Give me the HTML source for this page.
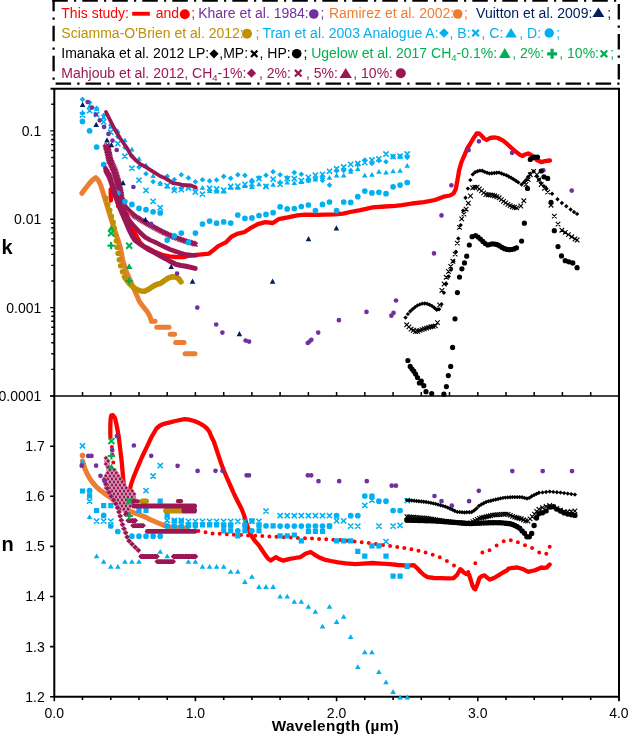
<!DOCTYPE html>
<html><head><meta charset="utf-8"><style>html,body{margin:0;padding:0;background:#fff;width:637px;height:735px;overflow:hidden}svg{display:block}</style></head>
<body><svg width="637" height="735" viewBox="0 0 637 735"><path d="M54.3 88 V696.7 H619" fill="none" stroke="#000" stroke-width="2"/>
<path d="M619 89 V700.5" fill="none" stroke="#000" stroke-width="2"/>
<path d="M50.5 88.8 H620" fill="none" stroke="#000" stroke-width="2"/>
<path d="M50.099999999999994 396 H620" fill="none" stroke="#000" stroke-width="1.7"/>
<path d="M54.3 696.7v4.5M82.5 696.7v3.2M110.8 696.7v3.2M139 696.7v3.2M167.2 696.7v3.2M195.4 696.7v4.5M223.7 696.7v3.2M251.9 696.7v3.2M280.1 696.7v3.2M308.4 696.7v3.2M336.6 696.7v4.5M364.8 696.7v3.2M393.1 696.7v3.2M421.3 696.7v3.2M449.5 696.7v3.2M477.8 696.7v4.5M506 696.7v3.2M534.2 696.7v3.2M562.4 696.7v3.2M590.7 696.7v3.2M618.9 696.7v4.5" stroke="#000" stroke-width="1.6"/>
<path d="M82.5 396v-4M110.8 396v-4M139 396v-4M167.2 396v-4M195.4 396v-4M223.7 396v-4M251.9 396v-4M280.1 396v-4M308.4 396v-4M336.6 396v-4M364.8 396v-4M393.1 396v-4M421.3 396v-4M449.5 396v-4M477.8 396v-4M506 396v-4M534.2 396v-4M562.4 396v-4M590.7 396v-4" stroke="#000" stroke-width="1.5"/>
<path d="M54.3 395.9h-4.1M54.3 369.4h-3M54.3 353.8h-3M54.3 342.8h-3M54.3 334.2h-3M54.3 327.2h-3M54.3 321.3h-3M54.3 316.2h-3M54.3 311.6h-3M54.3 307.6h-4.1M54.3 281h-3M54.3 265.4h-3M54.3 254.4h-3M54.3 245.8h-3M54.3 238.9h-3M54.3 232.9h-3M54.3 227.8h-3M54.3 223.3h-3M54.3 219.2h-4.1M54.3 192.7h-3M54.3 177.1h-3M54.3 166.1h-3M54.3 157.5h-3M54.3 150.5h-3M54.3 144.6h-3M54.3 139.5h-3M54.3 134.9h-3M54.3 130.9h-4.1M54.3 104.3h-3" stroke="#000" stroke-width="1.4"/>
<path d="M54.3 696.7h-4.2M54.3 646.6h-4.2M54.3 596.5h-4.2M54.3 546.4h-4.2M54.3 496.3h-4.2M54.3 446.2h-4.2" stroke="#000" stroke-width="1.6"/>
<text x="41.3" y="135.8" font-family="Liberation Sans, Arial, sans-serif" font-size="14" text-anchor="end">0.1</text>
<text x="41.3" y="224.2" font-family="Liberation Sans, Arial, sans-serif" font-size="14" text-anchor="end">0.01</text>
<text x="41.3" y="312.5" font-family="Liberation Sans, Arial, sans-serif" font-size="14" text-anchor="end">0.001</text>
<text x="41.3" y="400.8" font-family="Liberation Sans, Arial, sans-serif" font-size="14" text-anchor="end">0.0001</text>
<text x="44.8" y="701.6" font-family="Liberation Sans, Arial, sans-serif" font-size="14" text-anchor="end">1.2</text>
<text x="44.8" y="651.5" font-family="Liberation Sans, Arial, sans-serif" font-size="14" text-anchor="end">1.3</text>
<text x="44.8" y="601.4" font-family="Liberation Sans, Arial, sans-serif" font-size="14" text-anchor="end">1.4</text>
<text x="44.8" y="551.3" font-family="Liberation Sans, Arial, sans-serif" font-size="14" text-anchor="end">1.5</text>
<text x="44.8" y="501.2" font-family="Liberation Sans, Arial, sans-serif" font-size="14" text-anchor="end">1.6</text>
<text x="44.8" y="451.1" font-family="Liberation Sans, Arial, sans-serif" font-size="14" text-anchor="end">1.7</text>
<text x="54.3" y="717.8" font-family="Liberation Sans, Arial, sans-serif" font-size="14" text-anchor="middle">0.0</text>
<text x="195.4" y="717.8" font-family="Liberation Sans, Arial, sans-serif" font-size="14" text-anchor="middle">1.0</text>
<text x="336.6" y="717.8" font-family="Liberation Sans, Arial, sans-serif" font-size="14" text-anchor="middle">2.0</text>
<text x="477.8" y="717.8" font-family="Liberation Sans, Arial, sans-serif" font-size="14" text-anchor="middle">3.0</text>
<text x="618.9" y="717.8" font-family="Liberation Sans, Arial, sans-serif" font-size="14" text-anchor="middle">4.0</text>
<text x="335.4" y="731.3" font-family="Liberation Sans, Arial, sans-serif" font-size="15.3" font-weight="bold" letter-spacing="0.35" text-anchor="middle">Wavelength (µm)</text>
<text x="1.6" y="254" font-family="Liberation Sans, Arial, sans-serif" font-size="20" font-weight="bold">k</text>
<text x="1.6" y="550.5" font-family="Liberation Sans, Arial, sans-serif" font-size="20" font-weight="bold">n</text>
<path d="M52.3 0.6H620" stroke="#000" stroke-width="2.3" stroke-dasharray="15.5 6.2 2.2 6.1" fill="none"/>
<path d="M618.8 3.9V85" stroke="#000" stroke-width="2.3" stroke-dasharray="15.5 6.2 2.2 6.1" fill="none"/>
<path d="M55.6 83.7H620" stroke="#000" stroke-width="2.3" stroke-dasharray="15.5 6.2 2.2 6.1" fill="none"/>
<path d="M53.6 -4.2V84" stroke="#000" stroke-width="2.3" stroke-dasharray="15.5 6.2 2.2 6.1" fill="none"/>
<text x="61.3" y="17.8" font-family="Liberation Sans, Arial, sans-serif" font-size="14" fill="#ff0000">This study:</text>
<rect x="132.2" y="11.8" width="17.6" height="3.9" fill="#ff0000"/>
<text x="155.8" y="17.8" font-family="Liberation Sans, Arial, sans-serif" font-size="14" fill="#ff0000">and</text>
<circle cx="184.8" cy="14.2" r="5" fill="#ff0000"/>
<text x="191.2" y="17.8" font-family="Liberation Sans, Arial, sans-serif" font-size="14" fill="#ff0000">;</text>
<text x="198.2" y="17.8" font-family="Liberation Sans, Arial, sans-serif" font-size="14" fill="#7030a0">Khare et al. 1984:</text>
<circle cx="313.8" cy="14" r="4.8" fill="#7030a0"/>
<text x="320.4" y="17.8" font-family="Liberation Sans, Arial, sans-serif" font-size="14" fill="#7030a0">;</text>
<text x="328.9" y="17.8" font-family="Liberation Sans, Arial, sans-serif" font-size="14" fill="#ed7d31">Ramirez et al. 2002:</text>
<circle cx="457.7" cy="14" r="4.8" fill="#ed7d31"/>
<text x="463.9" y="17.8" font-family="Liberation Sans, Arial, sans-serif" font-size="14" fill="#ed7d31">;</text>
<text x="476.1" y="17.8" font-family="Liberation Sans, Arial, sans-serif" font-size="14" fill="#002060">Vuitton et al. 2009:</text>
<path d="M598.4 7.5L604.4 17.1H592.4Z" fill="#002060"/>
<text x="607.3" y="17.8" font-family="Liberation Sans, Arial, sans-serif" font-size="14" fill="#002060">;</text>
<text x="61.3" y="38" font-family="Liberation Sans, Arial, sans-serif" font-size="14" fill="#bf9000">Sciamma-O'Brien et al. 2012:</text>
<circle cx="247" cy="33.8" r="5" fill="#bf9000"/>
<text x="255.4" y="38" font-family="Liberation Sans, Arial, sans-serif" font-size="14" fill="#bf9000">;</text>
<text x="262.4" y="38" font-family="Liberation Sans, Arial, sans-serif" font-size="14" fill="#00b0f0">Tran et al. 2003 Analogue A:</text>
<path d="M444 28.2L448.8 33L444 37.8L439.2 33Z" fill="#00b0f0"/>
<text x="449.6" y="38" font-family="Liberation Sans, Arial, sans-serif" font-size="14" fill="#00b0f0">, B:</text>
<path d="M472.3 29.7L478.9 36.3M472.3 36.3L478.9 29.7" stroke="#00b0f0" stroke-width="2.2" fill="none"/>
<text x="481.5" y="38" font-family="Liberation Sans, Arial, sans-serif" font-size="14" fill="#00b0f0">, C:</text>
<path d="M511 28.1L516.8 37.6H505.2Z" fill="#00b0f0"/>
<text x="519.3" y="38" font-family="Liberation Sans, Arial, sans-serif" font-size="14" fill="#00b0f0">, D:</text>
<circle cx="549.2" cy="33" r="4.7" fill="#00b0f0"/>
<text x="556.2" y="38" font-family="Liberation Sans, Arial, sans-serif" font-size="14" fill="#00b0f0">;</text>
<text x="61.3" y="58" font-family="Liberation Sans, Arial, sans-serif" font-size="14" fill="#000">Imanaka et al. 2012 LP:</text>
<path d="M214 49.2L218.6 53.8L214 58.4L209.4 53.8Z" fill="#000"/>
<text x="219.3" y="58" font-family="Liberation Sans, Arial, sans-serif" font-size="14" fill="#000">,MP:</text>
<path d="M251 50.6L257.4 57M251 57L257.4 50.6" stroke="#000" stroke-width="2.2" fill="none"/>
<text x="259.5" y="58" font-family="Liberation Sans, Arial, sans-serif" font-size="14" fill="#000">, HP:</text>
<circle cx="296.7" cy="53.7" r="4.8" fill="#000"/>
<text x="303.6" y="58" font-family="Liberation Sans, Arial, sans-serif" font-size="14" fill="#000">;</text>
<text x="311.2" y="58" font-family="Liberation Sans, Arial, sans-serif" font-size="14" fill="#00b050">Ugelow et al. 2017 CH<tspan font-size="9.5" dy="3">4</tspan><tspan dy="-3">-0.1%:</tspan></text>
<path d="M504.8 48.1L510.6 57.9H499Z" fill="#00b050"/>
<text x="512.2" y="58" font-family="Liberation Sans, Arial, sans-serif" font-size="14" fill="#00b050">, 2%:</text>
<path d="M547.1 53.8H557.1M552.1 48.8V58.8" stroke="#00b050" stroke-width="3.2" fill="none"/>
<text x="559.3" y="58" font-family="Liberation Sans, Arial, sans-serif" font-size="14" fill="#00b050">, 10%:</text>
<path d="M600.6 50.5L607.2 57.1M600.6 57.1L607.2 50.5" stroke="#00b050" stroke-width="2.2" fill="none"/>
<text x="610.3" y="58" font-family="Liberation Sans, Arial, sans-serif" font-size="14" fill="#00b050">;</text>
<text x="61.3" y="78" font-family="Liberation Sans, Arial, sans-serif" font-size="14" fill="#9b1654">Mahjoub et al. 2012, CH<tspan font-size="9.5" dy="3">4</tspan><tspan dy="-3">-1%:</tspan></text>
<path d="M251.5 68.6L256.1 73.2L251.5 77.8L246.9 73.2Z" fill="#9b1654"/>
<text x="259" y="78" font-family="Liberation Sans, Arial, sans-serif" font-size="14" fill="#9b1654"> , 2%:</text>
<path d="M294.9 69.9L301.5 76.5M294.9 76.5L301.5 69.9" stroke="#9b1654" stroke-width="2.2" fill="none"/>
<text x="306" y="78" font-family="Liberation Sans, Arial, sans-serif" font-size="14" fill="#9b1654"> , 5%:</text>
<path d="M345.7 68.1L351.8 77.9H339.6Z" fill="#9b1654"/>
<text x="353.3" y="78" font-family="Liberation Sans, Arial, sans-serif" font-size="14" fill="#9b1654"> , 10%:</text>
<circle cx="400.8" cy="73.2" r="5" fill="#9b1654"/>
<defs><clipPath id="ck"><rect x="55.5" y="90" width="562.5" height="308"/></clipPath><clipPath id="cn"><rect x="55.5" y="396.2" width="562.5" height="305"/></clipPath></defs>
<g clip-path="url(#ck)">
<path d="M110.6 189.5 L110.9 200.5M118 206 L122.6 209 L126 212.9 L129.5 222.3 L132 227.6 L133.9 231.4 L137 237 L140.2 242.7 L144 246.5 L148 248 L155.3 252.1 L162 254.8 L169.4 256.4 L176 257 L183.6 257.1 L190 255.5 L199.4 254.6 L208.8 253.7 L212.6 250.8 L218.2 246.1 L225.8 242.4 L231.4 236.7 L237.1 233.9 L244.6 232 L250.3 228.2 L257.8 224.1 L265.3 222.2 L272.9 223 L278.5 219.2 L287.9 217.3 L297.3 215.4 L304.9 214.7 L317.3 214.8 L334.5 214.4 L343.2 213.6 L350 212 L360.4 210.1 L372.7 207.4 L385 206.5 L395 205.8 L402 205.1 L412 203.5 L424 202.2 L434.9 200 L443.7 196.7 L450 195.5 L453.5 193.5 L455.8 189 L457.5 180 L459.1 170.3 L461.5 162 L464.6 154.9 L467 149 L470.1 144 L473 139 L476.7 133.5 L479 133.5 L481.1 135.2 L484 138.5 L486.6 140 L490 138 L494.3 137.4 L498 138 L503.1 140.7 L507.4 144.2 L511.9 148.4 L516.1 151.8 L520 154.9 L522.7 156.1 L525 154.5 L528.1 153.5 L531 155 L533.6 157.2 L537 160 L541.2 162.2 L545 161.2 L549.9 160.5" fill="none" stroke="#ff0000" stroke-width="4.3" stroke-linecap="round" stroke-linejoin="round"/>
<path d="M81.9 193.3 L85 189 L88.5 184.5 L92 180.5 L95.8 177.6 L98.5 180.5 L100.8 185.5 L102.7 191.4 L105 199 L107.7 207.7 L110.2 216 L112.7 224 L115.1 231.5 L118.4 241 L120.6 248.5 L123 261.4 L126.5 272 L130.8 281.8 L134 289 L137.1 296 L139.4 301.6 L143.4 306.9 L147.3 311.8 L149.6 315.7 L151.5 321" fill="none" stroke="#ed7d31" stroke-width="5" stroke-linecap="round" stroke-linejoin="round"/>
<path d="M151.5 321.2 L155 321.2" fill="none" stroke="#ed7d31" stroke-width="5" stroke-linecap="round" stroke-linejoin="round"/>
<path d="M156.8 327.2 L169 327.2" fill="none" stroke="#ed7d31" stroke-width="5" stroke-linecap="round" stroke-linejoin="round"/>
<path d="M170.2 334.2 L174.6 334.2" fill="none" stroke="#ed7d31" stroke-width="5" stroke-linecap="round" stroke-linejoin="round"/>
<path d="M175.7 342.4 L184 342.4" fill="none" stroke="#ed7d31" stroke-width="5" stroke-linecap="round" stroke-linejoin="round"/>
<path d="M185.1 353.8 L195 353.8" fill="none" stroke="#ed7d31" stroke-width="5" stroke-linecap="round" stroke-linejoin="round"/>
<path d="M105.8 198.3h0M107.8 204.3h0M109.7 210.3h0M111.4 216.3h0M113.1 222.4h0M114.4 228.6h0M115.6 234.8h0M116.4 241h0M117.1 247.3h0M118.1 253.5h0M119.4 259.7h0M120.7 265.8h0M122.6 271.8h0" stroke="#bf9000" stroke-width="5.6" stroke-linecap="round" fill="none"/>
<path d="M124.5 277 L129.2 283.4 L133 287 L137.1 289.7 L141 291 L145 291.2 L149 289 L152.8 286.5 L156.5 284.5 L160.6 283.4 L164.5 280.5 L168.5 277.9 L172 276.8 L175.6 277.1 L178.5 278.5 L181 281.8" fill="none" stroke="#bf9000" stroke-width="5.5" stroke-linecap="round" stroke-linejoin="round"/>
<path d="M104.5 143.1l2.2 3.7h-4.4zM105 144.7l2.2 3.7h-4.4zM105.4 146.2l2.2 3.7h-4.4zM105.9 147.7l2.2 3.7h-4.4zM106.2 149.3l2.2 3.7h-4.4zM106.5 150.9l2.2 3.7h-4.4zM106.9 152.4l2.2 3.7h-4.4zM107.2 154l2.2 3.7h-4.4zM107.5 155.6l2.2 3.7h-4.4zM107.8 157.1l2.2 3.7h-4.4zM108.2 158.7l2.2 3.7h-4.4zM108.9 160.1l2.2 3.7h-4.4zM109.6 161.6l2.2 3.7h-4.4zM110.2 163l2.2 3.7h-4.4zM110.9 164.5l2.2 3.7h-4.4zM111.5 166l2.2 3.7h-4.4zM112.2 167.4l2.2 3.7h-4.4zM112.7 168.9l2.2 3.7h-4.4zM113.2 170.4l2.2 3.7h-4.4zM113.7 172l2.2 3.7h-4.4zM114.1 173.5l2.2 3.7h-4.4zM114.6 175l2.2 3.7h-4.4zM115 176.6l2.2 3.7h-4.4zM115.5 178.1l2.2 3.7h-4.4zM115.9 179.7l2.2 3.7h-4.4zM116.3 181.2l2.2 3.7h-4.4zM116.7 182.8l2.2 3.7h-4.4zM117 184.3l2.2 3.7h-4.4zM117.4 185.9l2.2 3.7h-4.4zM117.8 187.4l2.2 3.7h-4.4zM118.1 189l2.2 3.7h-4.4zM118.4 190.6l2.2 3.7h-4.4zM118.6 192.2l2.2 3.7h-4.4zM118.9 193.7l2.2 3.7h-4.4zM119.1 195.3l2.2 3.7h-4.4zM119.4 196.9l2.2 3.7h-4.4zM120 198.3l2.2 3.7h-4.4zM121.1 199.4l2.2 3.7h-4.4zM122.3 200.5l2.2 3.7h-4.4zM123.4 201.6l2.2 3.7h-4.4zM124.6 202.7l2.2 3.7h-4.4zM125.7 203.8l2.2 3.7h-4.4zM126.8 205l2.2 3.7h-4.4zM128 206.1l2.2 3.7h-4.4zM129.1 207.2l2.2 3.7h-4.4zM130.2 208.4l2.2 3.7h-4.4zM131.4 209.5l2.2 3.7h-4.4zM132.6 210.6l2.2 3.7h-4.4zM133.7 211.7l2.2 3.7h-4.4zM134.9 212.7l2.2 3.7h-4.4zM136.3 213.6l2.2 3.7h-4.4zM137.7 214.4l2.2 3.7h-4.4zM139 215.3l2.2 3.7h-4.4zM140.4 216.1l2.2 3.7h-4.4zM141.7 217l2.2 3.7h-4.4zM143.1 217.8l2.2 3.7h-4.4zM144.5 218.6l2.2 3.7h-4.4zM145.9 219.3l2.2 3.7h-4.4zM147.3 220.1l2.2 3.7h-4.4zM148.7 220.9l2.2 3.7h-4.4zM150 221.7l2.2 3.7h-4.4zM151.4 222.5l2.2 3.7h-4.4zM152.8 223.3l2.2 3.7h-4.4zM154.3 224l2.2 3.7h-4.4zM155.7 224.8l2.2 3.7h-4.4zM157.1 225.5l2.2 3.7h-4.4zM158.5 226.3l2.2 3.7h-4.4zM159.9 227l2.2 3.7h-4.4zM161.3 227.8l2.2 3.7h-4.4zM162.8 228.5l2.2 3.7h-4.4zM164.2 229.2l2.2 3.7h-4.4zM165.6 229.9l2.2 3.7h-4.4zM167.1 230.6l2.2 3.7h-4.4zM168.5 231.2l2.2 3.7h-4.4zM170 231.9l2.2 3.7h-4.4zM171.4 232.6l2.2 3.7h-4.4zM172.9 233.3l2.2 3.7h-4.4zM174.4 233.8l2.2 3.7h-4.4zM175.9 234.4l2.2 3.7h-4.4zM177.4 234.9l2.2 3.7h-4.4zM178.9 235.4l2.2 3.7h-4.4zM180.4 236l2.2 3.7h-4.4zM181.9 236.5l2.2 3.7h-4.4zM183.4 237.1l2.2 3.7h-4.4zM184.9 237.6l2.2 3.7h-4.4zM186.5 238l2.2 3.7h-4.4zM188 238.5l2.2 3.7h-4.4zM189.5 238.9l2.2 3.7h-4.4zM191.1 239.3l2.2 3.7h-4.4zM192.6 239.8l2.2 3.7h-4.4zM194.2 240.2l2.2 3.7h-4.4zM195.7 240.6l2.2 3.7h-4.4z" fill="#9b1654"/>
<path d="M105.5 143l4 4M105.5 147l4 -4M106 144.5l4 4M106 148.5l4 -4M106.4 146.1l4 4M106.4 150.1l4 -4M106.9 147.6l4 4M106.9 151.6l4 -4M107.2 149.2l4 4M107.2 153.2l4 -4M107.5 150.7l4 4M107.5 154.7l4 -4M107.9 152.3l4 4M107.9 156.3l4 -4M108.2 153.9l4 4M108.2 157.9l4 -4M108.5 155.4l4 4M108.5 159.4l4 -4M108.8 157l4 4M108.8 161l4 -4M109.2 158.5l4 4M109.2 162.5l4 -4M109.9 160l4 4M109.9 164l4 -4M110.6 161.4l4 4M110.6 165.4l4 -4M111.2 162.9l4 4M111.2 166.9l4 -4M111.9 164.4l4 4M111.9 168.4l4 -4M112.5 165.8l4 4M112.5 169.8l4 -4M113.2 167.3l4 4M113.2 171.3l4 -4M113.7 168.8l4 4M113.7 172.8l4 -4M114.2 170.3l4 4M114.2 174.3l4 -4M114.7 171.8l4 4M114.7 175.8l4 -4M115.1 173.4l4 4M115.1 177.4l4 -4M115.6 174.9l4 4M115.6 178.9l4 -4M116 176.4l4 4M116 180.4l4 -4M116.5 178l4 4M116.5 182l4 -4M116.9 179.5l4 4M116.9 183.5l4 -4M117.3 181.1l4 4M117.3 185.1l4 -4M117.7 182.6l4 4M117.7 186.6l4 -4M118 184.2l4 4M118 188.2l4 -4M118.4 185.7l4 4M118.4 189.7l4 -4M118.8 187.3l4 4M118.8 191.3l4 -4M119.1 188.9l4 4M119.1 192.9l4 -4M119.4 190.4l4 4M119.4 194.4l4 -4M119.6 192l4 4M119.6 196l4 -4M119.9 193.6l4 4M119.9 197.6l4 -4M120.1 195.2l4 4M120.1 199.2l4 -4M120.4 196.8l4 4M120.4 200.8l4 -4M120.7 198.3l4 4M120.7 202.3l4 -4M121.2 199.8l4 4M121.2 203.8l4 -4M121.7 201.3l4 4M121.7 205.3l4 -4M122.3 202.9l4 4M122.3 206.9l4 -4M122.8 204.4l4 4M122.8 208.4l4 -4M123.7 205.7l4 4M123.7 209.7l4 -4M124.8 206.8l4 4M124.8 210.8l4 -4M125.9 207.9l4 4M125.9 211.9l4 -4M127.1 209.1l4 4M127.1 213.1l4 -4M128.2 210.2l4 4M128.2 214.2l4 -4M129.3 211.3l4 4M129.3 215.3l4 -4M130.5 212.4l4 4M130.5 216.4l4 -4M131.7 213.5l4 4M131.7 217.5l4 -4M132.9 214.5l4 4M132.9 218.5l4 -4M134.2 215.4l4 4M134.2 219.4l4 -4M135.6 216.2l4 4M135.6 220.2l4 -4M136.9 217.1l4 4M136.9 221.1l4 -4M138.3 217.9l4 4M138.3 221.9l4 -4M139.7 218.8l4 4M139.7 222.8l4 -4M141 219.6l4 4M141 223.6l4 -4M142.4 220.4l4 4M142.4 224.4l4 -4M143.8 221.2l4 4M143.8 225.2l4 -4M145.2 222l4 4M145.2 226l4 -4M146.6 222.8l4 4M146.6 226.8l4 -4M148 223.6l4 4M148 227.6l4 -4M149.4 224.4l4 4M149.4 228.4l4 -4M150.8 225.1l4 4M150.8 229.1l4 -4M152.2 225.9l4 4M152.2 229.9l4 -4M153.6 226.6l4 4M153.6 230.6l4 -4M155 227.4l4 4M155 231.4l4 -4M156.4 228.1l4 4M156.4 232.1l4 -4M157.8 228.9l4 4M157.8 232.9l4 -4M159.3 229.6l4 4M159.3 233.6l4 -4M160.7 230.3l4 4M160.7 234.3l4 -4M162.1 231l4 4M162.1 235l4 -4M163.6 231.7l4 4M163.6 235.7l4 -4M165 232.4l4 4M165 236.4l4 -4M166.5 233.1l4 4M166.5 237.1l4 -4M167.9 233.8l4 4M167.9 237.8l4 -4M169.4 234.5l4 4M169.4 238.5l4 -4M170.8 235.1l4 4M170.8 239.1l4 -4M172.3 235.7l4 4M172.3 239.7l4 -4M173.8 236.2l4 4M173.8 240.2l4 -4M175.3 236.7l4 4M175.3 240.7l4 -4M176.8 237.3l4 4M176.8 241.3l4 -4M178.3 237.8l4 4M178.3 241.8l4 -4M179.8 238.4l4 4M179.8 242.4l4 -4M181.4 238.9l4 4M181.4 242.9l4 -4M182.9 239.4l4 4M182.9 243.4l4 -4M184.4 239.9l4 4M184.4 243.9l4 -4M185.9 240.3l4 4M185.9 244.3l4 -4M187.5 240.8l4 4M187.5 244.8l4 -4M189 241.2l4 4M189 245.2l4 -4M190.6 241.6l4 4M190.6 245.6l4 -4M192.1 242.1l4 4M192.1 246.1l4 -4M193.6 242.5l4 4M193.6 246.5l4 -4" stroke="#9b1654" stroke-width="1.2" fill="none"/>
<path d="M82.5 96.6l2.8 2.8l-2.8 2.8l-2.8 -2.8zM89.6 99.8l2.8 2.8l-2.8 2.8l-2.8 -2.8zM96.6 105.4l2.8 2.8l-2.8 2.8l-2.8 -2.8zM103.7 112.7l2.8 2.8l-2.8 2.8l-2.8 -2.8zM110.8 122.4l2.8 2.8l-2.8 2.8l-2.8 -2.8zM117.8 133.8l2.8 2.8l-2.8 2.8l-2.8 -2.8zM124.9 144.7l2.8 2.8l-2.8 2.8l-2.8 -2.8zM131.9 153.4l2.8 2.8l-2.8 2.8l-2.8 -2.8zM139 164.3l2.8 2.8l-2.8 2.8l-2.8 -2.8zM146 171l2.8 2.8l-2.8 2.8l-2.8 -2.8zM153.1 179l2.8 2.8l-2.8 2.8l-2.8 -2.8zM160.2 180.6l2.8 2.8l-2.8 2.8l-2.8 -2.8zM167.2 173.5l2.8 2.8l-2.8 2.8l-2.8 -2.8zM174.3 176.7l2.8 2.8l-2.8 2.8l-2.8 -2.8zM181.3 171.9l2.8 2.8l-2.8 2.8l-2.8 -2.8zM188.4 175.1l2.8 2.8l-2.8 2.8l-2.8 -2.8zM195.4 179l2.8 2.8l-2.8 2.8l-2.8 -2.8zM202.5 177l2.8 2.8l-2.8 2.8l-2.8 -2.8zM209.6 178.1l2.8 2.8l-2.8 2.8l-2.8 -2.8zM216.6 177.2l2.8 2.8l-2.8 2.8l-2.8 -2.8zM223.7 173.6l2.8 2.8l-2.8 2.8l-2.8 -2.8zM230.7 175.5l2.8 2.8l-2.8 2.8l-2.8 -2.8zM237.8 171.9l2.8 2.8l-2.8 2.8l-2.8 -2.8zM244.9 172.6l2.8 2.8l-2.8 2.8l-2.8 -2.8zM251.9 177.6l2.8 2.8l-2.8 2.8l-2.8 -2.8zM259 175l2.8 2.8l-2.8 2.8l-2.8 -2.8zM266 172.4l2.8 2.8l-2.8 2.8l-2.8 -2.8zM273.1 169l2.8 2.8l-2.8 2.8l-2.8 -2.8zM280.1 171.9l2.8 2.8l-2.8 2.8l-2.8 -2.8zM287.2 175l2.8 2.8l-2.8 2.8l-2.8 -2.8zM294.3 169.8l2.8 2.8l-2.8 2.8l-2.8 -2.8zM301.3 171.4l2.8 2.8l-2.8 2.8l-2.8 -2.8zM308.4 178l2.8 2.8l-2.8 2.8l-2.8 -2.8zM315.4 176.2l2.8 2.8l-2.8 2.8l-2.8 -2.8zM322.5 177.6l2.8 2.8l-2.8 2.8l-2.8 -2.8zM329.5 182.3l2.8 2.8l-2.8 2.8l-2.8 -2.8zM336.6 168.1l2.8 2.8l-2.8 2.8l-2.8 -2.8zM343.7 167.6l2.8 2.8l-2.8 2.8l-2.8 -2.8zM350.7 167.6l2.8 2.8l-2.8 2.8l-2.8 -2.8zM357.8 161.6l2.8 2.8l-2.8 2.8l-2.8 -2.8zM364.8 157.2l2.8 2.8l-2.8 2.8l-2.8 -2.8zM371.9 160.7l2.8 2.8l-2.8 2.8l-2.8 -2.8zM378.9 157.8l2.8 2.8l-2.8 2.8l-2.8 -2.8zM386 159l2.8 2.8l-2.8 2.8l-2.8 -2.8zM393.1 153.8l2.8 2.8l-2.8 2.8l-2.8 -2.8zM400.1 153.8l2.8 2.8l-2.8 2.8l-2.8 -2.8zM407.2 154.7l2.8 2.8l-2.8 2.8l-2.8 -2.8z" fill="#00b0f0"/>
<path d="M79.9 112.4l5.2 5.2M79.9 117.6l5.2 -5.2M87 108.1l5.2 5.2M87 113.3l5.2 -5.2M94 111.9l5.2 5.2M94 117.1l5.2 -5.2M101.1 119.3l5.2 5.2M101.1 124.5l5.2 -5.2M108.2 129.6l5.2 5.2M108.2 134.8l5.2 -5.2M115.2 141.1l5.2 5.2M115.2 146.3l5.2 -5.2M122.3 153.6l5.2 5.2M122.3 158.8l5.2 -5.2M129.3 165.6l5.2 5.2M129.3 170.8l5.2 -5.2M136.4 177.6l5.2 5.2M136.4 182.8l5.2 -5.2M143.4 187.8l5.2 5.2M143.4 193l5.2 -5.2M150.5 198.8l5.2 5.2M150.5 204l5.2 -5.2M157.6 205.1l5.2 5.2M157.6 210.3l5.2 -5.2M164.6 183.1l5.2 5.2M164.6 188.3l5.2 -5.2M171.7 187.8l5.2 5.2M171.7 193l5.2 -5.2M178.7 187.1l5.2 5.2M178.7 192.3l5.2 -5.2M185.8 185.4l5.2 5.2M185.8 190.6l5.2 -5.2M192.8 189.4l5.2 5.2M192.8 194.6l5.2 -5.2M199.9 191.6l5.2 5.2M199.9 196.8l5.2 -5.2M207 185.6l5.2 5.2M207 190.8l5.2 -5.2M214 186.4l5.2 5.2M214 191.6l5.2 -5.2M221.1 187.6l5.2 5.2M221.1 192.8l5.2 -5.2M228.1 183.9l5.2 5.2M228.1 189.1l5.2 -5.2M235.2 183.5l5.2 5.2M235.2 188.7l5.2 -5.2M242.3 181.8l5.2 5.2M242.3 187l5.2 -5.2M249.3 181.3l5.2 5.2M249.3 186.5l5.2 -5.2M256.4 176.1l5.2 5.2M256.4 181.3l5.2 -5.2M263.4 183.9l5.2 5.2M263.4 189.1l5.2 -5.2M270.5 176.6l5.2 5.2M270.5 181.8l5.2 -5.2M277.5 181.8l5.2 5.2M277.5 187l5.2 -5.2M284.6 176.1l5.2 5.2M284.6 181.3l5.2 -5.2M291.7 176.1l5.2 5.2M291.7 181.3l5.2 -5.2M298.7 178l5.2 5.2M298.7 183.2l5.2 -5.2M305.8 174.7l5.2 5.2M305.8 179.9l5.2 -5.2M312.8 172.5l5.2 5.2M312.8 177.7l5.2 -5.2M319.9 171.8l5.2 5.2M319.9 177l5.2 -5.2M326.9 168.7l5.2 5.2M326.9 173.9l5.2 -5.2M334 166.1l5.2 5.2M334 171.3l5.2 -5.2M341.1 164.4l5.2 5.2M341.1 169.6l5.2 -5.2M348.1 161.8l5.2 5.2M348.1 167l5.2 -5.2M355.2 160.9l5.2 5.2M355.2 166.1l5.2 -5.2M362.2 160l5.2 5.2M362.2 165.2l5.2 -5.2M369.3 157.4l5.2 5.2M369.3 162.6l5.2 -5.2M376.3 156.2l5.2 5.2M376.3 161.4l5.2 -5.2M383.4 151.4l5.2 5.2M383.4 156.6l5.2 -5.2M390.5 154l5.2 5.2M390.5 159.2l5.2 -5.2M397.5 153.5l5.2 5.2M397.5 158.7l5.2 -5.2M404.6 151.4l5.2 5.2M404.6 156.6l5.2 -5.2" stroke="#00b0f0" stroke-width="1.6" fill="none"/>
<path d="M82.5 109.6l2.8 4.8h-5.6zM89.6 103.6l2.8 4.8h-5.6zM96.6 106.1l2.8 4.8h-5.6zM103.7 114.6l2.8 4.8h-5.6zM110.8 124l2.8 4.8h-5.6zM117.8 128.2l2.8 4.8h-5.6zM124.9 137.5l2.8 4.8h-5.6zM131.9 146.7l2.8 4.8h-5.6zM139 156l2.8 4.8h-5.6zM146 162.4l2.8 4.8h-5.6zM153.1 173.2l2.8 4.8h-5.6zM160.2 181l2.8 4.8h-5.6zM167.2 183.6l2.8 4.8h-5.6zM174.3 185.6l2.8 4.8h-5.6zM181.3 184.6l2.8 4.8h-5.6zM188.4 183.6l2.8 4.8h-5.6zM195.4 184.6l2.8 4.8h-5.6zM202.5 184.9l2.8 4.8h-5.6zM209.6 188.2l2.8 4.8h-5.6zM216.6 188.8l2.8 4.8h-5.6zM223.7 188.6l2.8 4.8h-5.6zM230.7 184.9l2.8 4.8h-5.6zM237.8 184.9l2.8 4.8h-5.6zM244.9 183.2l2.8 4.8h-5.6zM251.9 184.1l2.8 4.8h-5.6zM259 181.5l2.8 4.8h-5.6zM266 183.2l2.8 4.8h-5.6zM273.1 182l2.8 4.8h-5.6zM280.1 178.9l2.8 4.8h-5.6zM287.2 179.7l2.8 4.8h-5.6zM294.3 180.3l2.8 4.8h-5.6zM301.3 179.2l2.8 4.8h-5.6zM308.4 177.8l2.8 4.8h-5.6zM315.4 176.6l2.8 4.8h-5.6zM322.5 174.1l2.8 4.8h-5.6zM329.5 174.9l2.8 4.8h-5.6zM336.6 172.7l2.8 4.8h-5.6zM343.7 172.7l2.8 4.8h-5.6zM350.7 168.9l2.8 4.8h-5.6zM357.8 166.3l2.8 4.8h-5.6zM364.8 172.7l2.8 4.8h-5.6zM371.9 172l2.8 4.8h-5.6zM378.9 168.9l2.8 4.8h-5.6zM386 169.7l2.8 4.8h-5.6zM393.1 168.5l2.8 4.8h-5.6zM400.1 168l2.8 4.8h-5.6zM407.2 162.9l2.8 4.8h-5.6z" fill="#00b0f0"/>
<path d="M82.5 121.4h0M89.6 130.8h0M96.6 147h0M103.7 164.6h0M117.8 193h0M124.9 201.6h0M131.9 204.4h0M139 208.4h0M146 209.7h0M153.1 211.8h0M160.2 212.9h0M167.2 240.1h0M174.3 235.9h0M181.3 233.1h0M188.4 242.3h0M195.4 233.1h0M202.5 224h0M209.6 221.1h0M216.6 223.2h0M223.7 221.9h0M230.7 223.1h0M237.8 215h0M244.9 218.4h0M251.9 217.9h0M259 215.5h0M266 214.4h0M273.1 212.7h0M280.1 206.8h0M287.2 208.9h0M294.3 208.6h0M301.3 206.5h0M308.4 205h0M315.4 210.6h0M322.5 204.4h0M329.5 202h0M336.6 210.6h0M343.7 202h0M350.7 202.4h0M357.8 196.7h0M364.8 191.1h0M371.9 192.9h0M378.9 192.3h0M386 193.7h0M393.1 186.8h0M400.1 185.1h0M407.2 182.5h0" stroke="#00b0f0" stroke-width="5.7" stroke-linecap="round" fill="none"/>
<path d="M105.5 168.5 L109.4 175 L112.3 184.4 L115 193.9 L118.5 202 L122 209 L126 215.5 L130.5 222 L135 227.2 L140 232.5 L145.2 237.2 L150 240 L155.4 242.3 L160.5 245 L165.6 247.4 L170.5 249.6 L175.8 251.5 L181 253.2 L186 254.6 L191 255.1 L196.2 255.2" fill="none" stroke="#9b1654" stroke-width="4.6" stroke-linecap="round" stroke-linejoin="round"/>
<path d="M106 171 L109.2 177 L112 185 L114.5 193.9 L117.5 202 L120.5 209.5 L123.5 216.5 L126.5 223.5 L129.5 230.5 L132.2 236 L135 240.3 L140 244 L145.2 247.4 L150 250.3 L155.4 253.1 L160.5 256 L165.6 258.7 L170.5 261.5 L175.8 264.3 L181 265.5 L186 266.3 L195.2 268.4" fill="none" stroke="#9b1654" stroke-width="5" stroke-linecap="round" stroke-linejoin="round"/>
<path d="M106 112 L110 120 L114.6 129 L120 138 L126.6 147.5 L131 155.1 L135.5 160 L140.8 164.4 L145 166.5 L149.4 169.4 L154.2 172.3 L160.8 176.5 L164.5 177.8 L169 180.5 L173 183.1 L179.6 184.1 L182.5 185 L191 185.4 L195.7 187.4" fill="none" stroke="#9b1654" stroke-width="3.8" stroke-linecap="round" stroke-linejoin="round"/>
<path d="M82.6 101.8l2.8 5.2h-5.6zM96.2 121.8l2.8 5.2h-5.6zM107 137.2l2.8 5.2h-5.6zM111.4 142.1l2.8 5.2h-5.6zM123 180l2.8 5.2h-5.6zM145.4 216.7l2.8 5.2h-5.6zM171.2 263.9l2.8 5.2h-5.6zM192.5 278.5l2.8 5.2h-5.6zM239.4 331l2.8 5.2h-5.6zM272.6 278.5l2.8 5.2h-5.6zM308.5 236l2.8 5.2h-5.6zM336.4 225.3l2.8 5.2h-5.6z" fill="#002060"/>
<path d="M87.6 102h0M92 107.6h0M95.8 114.5h0M99.7 120.3h0M104.1 126.9h0M108.5 133.9h0M112.5 140.6h0M116.7 150h0M133.4 187h0M151.1 223.9h0M177.1 273.5h0M197.3 307.6h0M216.2 324.5h0M222.4 332.6h0M245.6 340.5h0M249.1 341.6h0M307.8 343h0M309.5 341.5h0M311.3 339.8h0M318.2 332.6h0M338.9 320.2h0M366.5 311.9h0M391.4 315.7h0M393.5 312.9h0M396 300.5h0M434 253.3h0M441.5 215.4h0M451.4 185.3h0M468.6 150.1h0M478.9 141.3h0M512.1 152.8h0M543.4 170.3h0M571.7 190.6h0" stroke="#7030a0" stroke-width="4.7" stroke-linecap="round" fill="none"/>
<path d="M111.1 225.2l3.3 5.6h-6.6z" fill="#00b050"/>
<path d="M108.1 230.2l6 6M108.1 236.2l6 -6" stroke="#00b050" stroke-width="2" fill="none"/>
<path d="M107.5 245.7h7.2M111.1 242.1v7.2" stroke="#00b050" stroke-width="2.2" fill="none"/>
<path d="M126.2 242.7l6 6M126.2 248.7l6 -6" stroke="#00b050" stroke-width="2" fill="none"/>
<path d="M129.2 263.3l3.3 5.6h-6.6z" fill="#00b050"/>
<path d="M125.6 281h7.2M129.2 277.4v7.2" stroke="#00b050" stroke-width="2.2" fill="none"/>
<path d="M405.5 315.4l2.2 2.2l-2.2 2.2l-2.2 -2.2zM407.9 311.9l2.2 2.2l-2.2 2.2l-2.2 -2.2zM410.3 309.1l2.2 2.2l-2.2 2.2l-2.2 -2.2zM412.7 306.9l2.2 2.2l-2.2 2.2l-2.2 -2.2zM415.1 304.9l2.2 2.2l-2.2 2.2l-2.2 -2.2zM417.5 303.2l2.2 2.2l-2.2 2.2l-2.2 -2.2zM419.9 302.2l2.2 2.2l-2.2 2.2l-2.2 -2.2zM422.3 301.4l2.2 2.2l-2.2 2.2l-2.2 -2.2zM424.7 301.3l2.2 2.2l-2.2 2.2l-2.2 -2.2zM427.1 301.6l2.2 2.2l-2.2 2.2l-2.2 -2.2zM429.5 302.6l2.2 2.2l-2.2 2.2l-2.2 -2.2zM431.9 303.7l2.2 2.2l-2.2 2.2l-2.2 -2.2zM434.3 305.5l2.2 2.2l-2.2 2.2l-2.2 -2.2zM436.7 307.5l2.2 2.2l-2.2 2.2l-2.2 -2.2zM439.1 307.1l2.2 2.2l-2.2 2.2l-2.2 -2.2zM441.5 302l2.2 2.2l-2.2 2.2l-2.2 -2.2zM443.9 290.5l2.2 2.2l-2.2 2.2l-2.2 -2.2zM446.3 281.5l2.2 2.2l-2.2 2.2l-2.2 -2.2zM448.7 274.3l2.2 2.2l-2.2 2.2l-2.2 -2.2zM451.1 267.6l2.2 2.2l-2.2 2.2l-2.2 -2.2zM453.5 259.1l2.2 2.2l-2.2 2.2l-2.2 -2.2zM455.9 249.6l2.2 2.2l-2.2 2.2l-2.2 -2.2zM458.3 236.3l2.2 2.2l-2.2 2.2l-2.2 -2.2zM460.7 222.9l2.2 2.2l-2.2 2.2l-2.2 -2.2zM463.1 208.4l2.2 2.2l-2.2 2.2l-2.2 -2.2zM465.5 195.6l2.2 2.2l-2.2 2.2l-2.2 -2.2zM467.9 186.4l2.2 2.2l-2.2 2.2l-2.2 -2.2zM470.3 177.9l2.2 2.2l-2.2 2.2l-2.2 -2.2zM472.7 172.2l2.2 2.2l-2.2 2.2l-2.2 -2.2zM475.1 170l2.2 2.2l-2.2 2.2l-2.2 -2.2zM477.5 169l2.2 2.2l-2.2 2.2l-2.2 -2.2zM479.9 168.4l2.2 2.2l-2.2 2.2l-2.2 -2.2zM482.3 168.6l2.2 2.2l-2.2 2.2l-2.2 -2.2zM484.7 169.7l2.2 2.2l-2.2 2.2l-2.2 -2.2zM487.1 170.5l2.2 2.2l-2.2 2.2l-2.2 -2.2zM489.5 171.3l2.2 2.2l-2.2 2.2l-2.2 -2.2zM491.9 171.1l2.2 2.2l-2.2 2.2l-2.2 -2.2zM494.3 170.8l2.2 2.2l-2.2 2.2l-2.2 -2.2zM496.7 170.5l2.2 2.2l-2.2 2.2l-2.2 -2.2zM499.1 170.4l2.2 2.2l-2.2 2.2l-2.2 -2.2zM501.5 171.3l2.2 2.2l-2.2 2.2l-2.2 -2.2zM503.9 172.2l2.2 2.2l-2.2 2.2l-2.2 -2.2zM506.3 173.1l2.2 2.2l-2.2 2.2l-2.2 -2.2zM508.7 174.3l2.2 2.2l-2.2 2.2l-2.2 -2.2zM511.1 175.6l2.2 2.2l-2.2 2.2l-2.2 -2.2zM513.5 177l2.2 2.2l-2.2 2.2l-2.2 -2.2zM515.9 178.6l2.2 2.2l-2.2 2.2l-2.2 -2.2zM518.3 180.2l2.2 2.2l-2.2 2.2l-2.2 -2.2zM521.6 182.3l2.2 2.2l-2.2 2.2l-2.2 -2.2zM524 180.1l2.2 2.2l-2.2 2.2l-2.2 -2.2zM526 177.9l2.2 2.2l-2.2 2.2l-2.2 -2.2zM528.2 174.6l2.2 2.2l-2.2 2.2l-2.2 -2.2zM530.3 171.4l2.2 2.2l-2.2 2.2l-2.2 -2.2zM533.6 169.2l2.2 2.2l-2.2 2.2l-2.2 -2.2zM536.8 174l2.2 2.2l-2.2 2.2l-2.2 -2.2zM539 177.6l2.2 2.2l-2.2 2.2l-2.2 -2.2zM541.2 181.2l2.2 2.2l-2.2 2.2l-2.2 -2.2zM543.9 183.9l2.2 2.2l-2.2 2.2l-2.2 -2.2zM546.6 186.6l2.2 2.2l-2.2 2.2l-2.2 -2.2zM552.1 191.6l2.2 2.2l-2.2 2.2l-2.2 -2.2zM557.5 197.1l2.2 2.2l-2.2 2.2l-2.2 -2.2zM561.9 200.8l2.2 2.2l-2.2 2.2l-2.2 -2.2zM566.3 204.1l2.2 2.2l-2.2 2.2l-2.2 -2.2zM570.6 207.3l2.2 2.2l-2.2 2.2l-2.2 -2.2zM574 209.8l2.2 2.2l-2.2 2.2l-2.2 -2.2zM577.1 211.7l2.2 2.2l-2.2 2.2l-2.2 -2.2z" fill="#000"/>
<path d="M404.4 322.5l4.6 4.6M404.4 327.1l4.6 -4.6M406.6 324.6l4.6 4.6M406.6 329.2l4.6 -4.6M408.8 326.8l4.6 4.6M408.8 331.4l4.6 -4.6M411 328l4.6 4.6M411 332.6l4.6 -4.6M413.2 329.2l4.6 4.6M413.2 333.8l4.6 -4.6M415.4 329l4.6 4.6M415.4 333.6l4.6 -4.6M417.6 328.1l4.6 4.6M417.6 332.7l4.6 -4.6M419.8 327.3l4.6 4.6M419.8 331.9l4.6 -4.6M422 326.5l4.6 4.6M422 331.1l4.6 -4.6M424.2 325.8l4.6 4.6M424.2 330.4l4.6 -4.6M426.4 325.1l4.6 4.6M426.4 329.7l4.6 -4.6M428.6 324.5l4.6 4.6M428.6 329.1l4.6 -4.6M430.8 324.1l4.6 4.6M430.8 328.7l4.6 -4.6M433 323.6l4.6 4.6M433 328.2l4.6 -4.6M435.2 320.3l4.6 4.6M435.2 324.9l4.6 -4.6M437.4 302.7l4.6 4.6M437.4 307.3l4.6 -4.6M439.6 288.2l4.6 4.6M439.6 292.8l4.6 -4.6M441.8 281.7l4.6 4.6M441.8 286.3l4.6 -4.6M444 275l4.6 4.6M444 279.6l4.6 -4.6M446.2 269.2l4.6 4.6M446.2 273.8l4.6 -4.6M448.4 264.1l4.6 4.6M448.4 268.7l4.6 -4.6M450.6 259l4.6 4.6M450.6 263.6l4.6 -4.6M452.8 251.8l4.6 4.6M452.8 256.4l4.6 -4.6M455 240.8l4.6 4.6M455 245.4l4.6 -4.6M457.2 225.1l4.6 4.6M457.2 229.7l4.6 -4.6M459.4 216.6l4.6 4.6M459.4 221.2l4.6 -4.6M461.6 211.8l4.6 4.6M461.6 216.4l4.6 -4.6M463.8 206.9l4.6 4.6M463.8 211.5l4.6 -4.6M466 200.9l4.6 4.6M466 205.5l4.6 -4.6M468.2 193.7l4.6 4.6M468.2 198.3l4.6 -4.6M470.4 185.5l4.6 4.6M470.4 190.1l4.6 -4.6M472.6 185l4.6 4.6M472.6 189.6l4.6 -4.6M474.8 184.8l4.6 4.6M474.8 189.4l4.6 -4.6M477 186.7l4.6 4.6M477 191.3l4.6 -4.6M479.2 188.6l4.6 4.6M479.2 193.2l4.6 -4.6M481.4 190.6l4.6 4.6M481.4 195.2l4.6 -4.6M483.6 192.2l4.6 4.6M483.6 196.8l4.6 -4.6M485.8 192.5l4.6 4.6M485.8 197.1l4.6 -4.6M488 192.7l4.6 4.6M488 197.3l4.6 -4.6M490.2 193l4.6 4.6M490.2 197.6l4.6 -4.6M492.4 193.5l4.6 4.6M492.4 198.1l4.6 -4.6M494.6 194.4l4.6 4.6M494.6 199l4.6 -4.6M496.8 195.5l4.6 4.6M496.8 200.1l4.6 -4.6M499 197.3l4.6 4.6M499 201.9l4.6 -4.6M501.2 199.1l4.6 4.6M501.2 203.7l4.6 -4.6M503.4 200.6l4.6 4.6M503.4 205.2l4.6 -4.6M505.6 202.1l4.6 4.6M505.6 206.7l4.6 -4.6M507.8 203.3l4.6 4.6M507.8 207.9l4.6 -4.6M510 204.4l4.6 4.6M510 209l4.6 -4.6M512.2 205l4.6 4.6M512.2 209.6l4.6 -4.6M514.4 205.6l4.6 4.6M514.4 210.2l4.6 -4.6M518.5 203.7l4.6 4.6M518.5 208.3l4.6 -4.6M521.5 198.5l4.6 4.6M521.5 203.1l4.6 -4.6M523.7 182.2l4.6 4.6M523.7 186.8l4.6 -4.6M525.9 177.3l4.6 4.6M525.9 181.9l4.6 -4.6M528 172.4l4.6 4.6M528 177l4.6 -4.6M531.3 169.1l4.6 4.6M531.3 173.7l4.6 -4.6M534.5 172.4l4.6 4.6M534.5 177l4.6 -4.6M536.7 177.3l4.6 4.6M536.7 181.9l4.6 -4.6M538.9 182.2l4.6 4.6M538.9 186.8l4.6 -4.6M542.2 186l4.6 4.6M542.2 190.6l4.6 -4.6M545.4 189.8l4.6 4.6M545.4 194.4l4.6 -4.6M548.7 202.9l4.6 4.6M548.7 207.5l4.6 -4.6M552 213.8l4.6 4.6M552 218.4l4.6 -4.6M555.7 221.8l4.6 4.6M555.7 226.4l4.6 -4.6M559.6 227.9l4.6 4.6M559.6 232.5l4.6 -4.6M562.9 230.1l4.6 4.6M562.9 234.7l4.6 -4.6M566.1 232.3l4.6 4.6M566.1 236.9l4.6 -4.6M569.4 234.5l4.6 4.6M569.4 239.1l4.6 -4.6M572.7 236.7l4.6 4.6M572.7 241.3l4.6 -4.6M574.8 237.7l4.6 4.6M574.8 242.3l4.6 -4.6" stroke="#000" stroke-width="1.1" fill="none"/>
<path d="M407.9 360.5h0M410.2 366.4h0M412 369h0M413.8 371.2h0M415.6 374h0M417.5 377.5h0M419.4 382.9h0M421.3 381h0M423.8 385.7h0M426 391.7h0M431.7 393.6h0M443.9 394.2h0M446.4 386.6h0M448.3 375.6h0M450.7 366.4h0M452.6 347.4h0M455 318.8h0M457.4 292.6h0M459.5 277.1h0M461.9 268.8h0M464.5 262.9h0M466.7 256.2h0M469.3 245h0M472.1 236.7h0M475.7 235.5h0M478.1 237.1h0M480.5 239.1h0M482.9 241.4h0M485.3 243.5h0M487.7 245h0M490.1 244.3h0M492.5 243.8h0M494.9 244.1h0M497.3 244.7h0M499.7 245.9h0M502.1 247.4h0M504.5 248.7h0M506.9 249.4h0M509.3 249.7h0M511.7 249.5h0M514.1 248.9h0M516.5 247.8h0M521.6 241.1h0M524.4 223.2h0M527.5 188.4h0M530.3 159.4h0M532.5 157.8h0M534.7 157.2h0M537.5 157.2h0M541.2 171h0M544 176.8h0M547.7 178.4h0M551 202.3h0M554.3 230.7h0M558 246.6h0M561.5 255.9h0M565.2 260.7h0M568.9 261.8h0M572.8 262.9h0M577.1 267.7h0" stroke="#000" stroke-width="5.2" stroke-linecap="round" fill="none"/>
</g>
<g clip-path="url(#cn)">
<path d="M110.4 437 L110.3 428 L110.6 419 L111.3 415.4 L113 415.2 L115.1 418.2 L117 427 L118.8 437 L120.3 450 L121.7 461.5 L122.6 472 L123.5 482.2 L124.8 490 L126.2 495.5 L127.8 496.5 L129.4 492 L131.1 484.1 L134 476 L137.7 467.1 L142 457 L147.1 446.4 L151.5 437 L156.5 428.5 L160 425.5 L164 423.8 L170 422.4 L175.3 421 L180 420 L184.7 419.1 L189 419.6 L194.2 421 L199 423 L203.6 425.7 L207 428.5 L209.5 432 L211.5 437 L213.8 441.5 L217 451 L220.7 462.2 L224 471 L227.6 479.4 L231 487 L234.5 495 L238 502 L241.5 508.8 L244 515 L246.6 524.4 L249 530.5 L251.8 536.4 L255 541 L258.7 545.1 L262 550 L265.6 555.4 L268 558.5 L270.8 560.6 L273 559 L276 557.2 L279 559 L282.9 560.6 L286 559.8 L289.8 558.9 L295 558 L300.2 557.2 L305.4 553.7 L310.5 552 L313 553.5 L315.7 555.4 L320 557.8 L324.4 559.6 L331 561 L338.2 562.3 L346 563.3 L355.4 564.1 L363 563.6 L372.7 563 L381 563.6 L390 564.1 L398 565 L407.3 565.6 L413.8 565.1 L417 568 L420.7 572 L424 575 L427.6 577.2 L434 578 L441.5 578.2 L447 578.3 L453.5 578.2 L457 575 L460.4 569.2 L462.5 571 L463.9 572.7 L466.5 574 L469.1 574.7 L470.8 580 L472.5 585.8 L474 588.5 L475.3 589.3 L477.5 584 L479.4 578.2 L482 576 L484.6 575.4 L487 577.5 L489.8 579.6 L494 578 L498.4 575.4 L503 572.5 L507.1 570.3 L508.7 568.5 L513 567.8 L517.4 567.5 L521 568.5 L524 569.6 L528.3 571.8 L531.5 571 L534.9 570.3 L538 569 L541.4 567.5 L544 567.8 L546.8 567.5 L549.7 564.6" fill="none" stroke="#ff0000" stroke-width="4.3" stroke-linecap="round" stroke-linejoin="round"/>
<path d="M111.9 446.9h0M112.4 454.5h0M113.3 462.6h0M114.5 470h0M116.5 478h0M119 486h0M122.5 494h0M198.4 531.1h0M205.5 532.3h0M212.6 533.4h0M219.7 533.8h0M226.8 534.2h0M233.9 534.7h0M241 535h0M248.1 535.4h0M255.2 535.7h0M262.3 536.1h0M269.4 536.4h0M276.5 536.8h0M283.6 537.2h0M290.7 537.5h0M297.8 537.9h0M304.9 538.3h0M312 538.6h0M319.1 539h0M326.2 539.3h0M333.3 539.7h0M340.4 540.1h0M347.5 540.8h0M354.6 541.6h0M361.7 542.3h0M368.8 543h0M375.9 543.9h0M383 544.9h0M390.1 546h0M397.2 547h0M404.3 548.1h0M411.4 549.3h0M418.5 550.8h0M425.6 552.4h0M432.7 554.7h0M439.8 557.3h0M446.9 560.9h0M454 565.6h0M461.1 571.1h0M468.2 572.1h0M475.3 563.3h0M482.4 552.6h0M489.5 550.2h0M496.6 545.5h0M503.7 541.2h0M510.8 540.2h0M517.9 542.2h0M525 545.3h0M532.1 547.9h0M539.2 552.4h0M546.3 553.8h0M549.7 546.8h0" stroke="#ff0000" stroke-width="4" stroke-linecap="round" fill="none"/>
<path d="M82.5 461 L85 468.9 L87.5 474.5 L89.9 478.7 L93 483 L96.4 486.9 L100.5 490.5 L104.6 493.4 L108 496 L111.1 498 L115.5 502.2 L120.3 506 L125 508.5 L129.2 510.4 L135 513.2 L140 515 L146.2 517.4 L150 519.5 L157 522.5 L164.5 525.6 L170 527 L178 527.8 L186 528.2" fill="none" stroke="#ed7d31" stroke-width="5" stroke-linecap="round" stroke-linejoin="round"/>
<path d="M82.5 455.6h0" stroke="#ed7d31" stroke-width="5.6" stroke-linecap="round" fill="none"/>
<path d="M110 472 L112 478 L114 482 L116 487 L118.8 490.5 L122 492.5 L126 494.5 L132.8 496.4" fill="none" stroke="#bf9000" stroke-width="5.5" stroke-linecap="round" stroke-linejoin="round"/>
<path d="M142.5 501.2 L146.2 501.2" fill="none" stroke="#bf9000" stroke-width="5.5" stroke-linecap="round" stroke-linejoin="round"/>
<path d="M165.9 510.8 L182 510.8" fill="none" stroke="#bf9000" stroke-width="5.5" stroke-linecap="round" stroke-linejoin="round"/>
<path d="M79.9 488.4h5.2v5.2h-5.2zM87 493.3h5.2v5.2h-5.2zM94 507.9h5.2v5.2h-5.2zM101.1 503h5.2v5.2h-5.2zM108.2 503h5.2v5.2h-5.2zM136.4 507.8h5.2v5.2h-5.2zM143.4 507.8h5.2v5.2h-5.2zM157.6 498.6h5.2v5.2h-5.2zM164.6 513.1h5.2v5.2h-5.2zM171.7 518.4h5.2v5.2h-5.2zM178.7 518.4h5.2v5.2h-5.2zM185.8 521.9h5.2v5.2h-5.2zM192.8 521.9h5.2v5.2h-5.2zM199.9 522.4h5.2v5.2h-5.2zM207 522.4h5.2v5.2h-5.2zM214 522.4h5.2v5.2h-5.2zM221.1 528.2h5.2v5.2h-5.2zM228.1 528.2h5.2v5.2h-5.2zM235.2 533.2h5.2v5.2h-5.2zM242.3 528.2h5.2v5.2h-5.2zM249.3 518.2h5.2v5.2h-5.2zM256.4 528.2h5.2v5.2h-5.2zM270.5 523.2h5.2v5.2h-5.2zM277.5 533.2h5.2v5.2h-5.2zM284.6 533.2h5.2v5.2h-5.2zM291.7 532.4h5.2v5.2h-5.2zM298.7 538.3h5.2v5.2h-5.2zM305.8 528.7h5.2v5.2h-5.2zM312.8 528.7h5.2v5.2h-5.2zM319.9 528.7h5.2v5.2h-5.2zM326.9 523.5h5.2v5.2h-5.2zM334 538.3h5.2v5.2h-5.2zM341.1 538.3h5.2v5.2h-5.2zM348.1 538.3h5.2v5.2h-5.2zM355.2 548.7h5.2v5.2h-5.2zM362.2 553.5h5.2v5.2h-5.2zM369.3 543.2h5.2v5.2h-5.2zM376.3 543.2h5.2v5.2h-5.2zM383.4 553.5h5.2v5.2h-5.2zM390.5 573.6h5.2v5.2h-5.2zM397.5 573.6h5.2v5.2h-5.2zM404.6 563.9h5.2v5.2h-5.2z" fill="#00b0f0"/>
<path d="M79.9 443.2l5.2 5.2M79.9 448.4l5.2 -5.2M87 498.6l5.2 5.2M87 503.8l5.2 -5.2M94 518.5l5.2 5.2M94 523.7l5.2 -5.2M101.1 518.5l5.2 5.2M101.1 523.7l5.2 -5.2M108.2 518.5l5.2 5.2M108.2 523.7l5.2 -5.2M143.4 488l5.2 5.2M143.4 493.2l5.2 -5.2M150.5 473.4l5.2 5.2M150.5 478.6l5.2 -5.2M157.6 463l5.2 5.2M157.6 468.2l5.2 -5.2M164.6 517.9l5.2 5.2M164.6 523.1l5.2 -5.2M171.7 517.9l5.2 5.2M171.7 523.1l5.2 -5.2M178.7 517.9l5.2 5.2M178.7 523.1l5.2 -5.2M185.8 518.8l5.2 5.2M185.8 524l5.2 -5.2M192.8 518.8l5.2 5.2M192.8 524l5.2 -5.2M199.9 518.8l5.2 5.2M199.9 524l5.2 -5.2M207 518.8l5.2 5.2M207 524l5.2 -5.2M214 518.8l5.2 5.2M214 524l5.2 -5.2M221.1 518.8l5.2 5.2M221.1 524l5.2 -5.2M228.1 518.8l5.2 5.2M228.1 524l5.2 -5.2M235.2 518.8l5.2 5.2M235.2 524l5.2 -5.2M242.3 518.8l5.2 5.2M242.3 524l5.2 -5.2M249.3 518.8l5.2 5.2M249.3 524l5.2 -5.2M256.4 518.8l5.2 5.2M256.4 524l5.2 -5.2M263.4 508.5l5.2 5.2M263.4 513.7l5.2 -5.2M277.5 513.1l5.2 5.2M277.5 518.3l5.2 -5.2M284.6 513.1l5.2 5.2M284.6 518.3l5.2 -5.2M291.7 513.1l5.2 5.2M291.7 518.3l5.2 -5.2M298.7 513.1l5.2 5.2M298.7 518.3l5.2 -5.2M305.8 513.1l5.2 5.2M305.8 518.3l5.2 -5.2M312.8 513.1l5.2 5.2M312.8 518.3l5.2 -5.2M319.9 513.1l5.2 5.2M319.9 518.3l5.2 -5.2M326.9 513.1l5.2 5.2M326.9 518.3l5.2 -5.2M334 518.3l5.2 5.2M334 523.5l5.2 -5.2M341.1 518.3l5.2 5.2M341.1 523.5l5.2 -5.2M348.1 523.5l5.2 5.2M348.1 528.7l5.2 -5.2M355.2 523.5l5.2 5.2M355.2 528.7l5.2 -5.2M362.2 502.8l5.2 5.2M362.2 508l5.2 -5.2M369.3 497.6l5.2 5.2M369.3 502.8l5.2 -5.2M376.3 523.5l5.2 5.2M376.3 528.7l5.2 -5.2M383.4 539l5.2 5.2M383.4 544.2l5.2 -5.2M390.5 523.5l5.2 5.2M390.5 528.7l5.2 -5.2M397.5 522.8l5.2 5.2M397.5 528l5.2 -5.2M404.6 498l5.2 5.2M404.6 503.2l5.2 -5.2" stroke="#00b0f0" stroke-width="1.6" fill="none"/>
<path d="M82.5 459.2l2.8 4.8h-5.6zM89.6 514.2l2.8 4.8h-5.6zM96.6 553.5l2.8 4.8h-5.6zM103.7 559l2.8 4.8h-5.6zM110.8 564l2.8 4.8h-5.6zM117.8 564l2.8 4.8h-5.6zM124.9 559l2.8 4.8h-5.6zM131.9 559l2.8 4.8h-5.6zM139 559l2.8 4.8h-5.6zM160.2 549l2.8 4.8h-5.6zM167.2 553.5l2.8 4.8h-5.6zM188.4 559l2.8 4.8h-5.6zM195.4 559l2.8 4.8h-5.6zM202.5 564l2.8 4.8h-5.6zM209.6 564l2.8 4.8h-5.6zM216.6 564l2.8 4.8h-5.6zM223.7 564l2.8 4.8h-5.6zM230.7 568.9l2.8 4.8h-5.6zM237.8 568.9l2.8 4.8h-5.6zM244.9 579.1l2.8 4.8h-5.6zM251.9 573.9l2.8 4.8h-5.6zM259 584.1l2.8 4.8h-5.6zM266 584.1l2.8 4.8h-5.6zM273.1 584.1l2.8 4.8h-5.6zM280.1 593.8l2.8 4.8h-5.6zM287.2 593.8l2.8 4.8h-5.6zM294.3 598.9l2.8 4.8h-5.6zM301.3 598.9l2.8 4.8h-5.6zM308.4 603.9l2.8 4.8h-5.6zM315.4 609l2.8 4.8h-5.6zM322.5 623.8l2.8 4.8h-5.6zM329.5 603.9l2.8 4.8h-5.6zM336.6 619.1l2.8 4.8h-5.6zM343.7 614l2.8 4.8h-5.6zM350.7 634.2l2.8 4.8h-5.6zM357.8 664.2l2.8 4.8h-5.6zM364.8 649.4l2.8 4.8h-5.6zM371.9 649.4l2.8 4.8h-5.6zM378.9 669.3l2.8 4.8h-5.6zM386 679.4l2.8 4.8h-5.6zM393.1 689.1l2.8 4.8h-5.6zM400.1 694.6l2.8 4.8h-5.6zM407.2 694.6l2.8 4.8h-5.6z" fill="#00b0f0"/>
<path d="M89.6 490.7h0M103.7 515.4h0M110.8 526h0M117.8 531.5h0M131.9 536.2h0M139 536.2h0M146 536.2h0M153.1 536.2h0M160.2 536.2h0M167.2 526h0M174.3 526h0M181.3 526h0M188.4 526h0M195.4 526h0M223.7 525.8h0M230.7 525.8h0M237.8 530.8h0M244.9 525.8h0M251.9 530.8h0M259 525.8h0M266 525.8h0M280.1 526.1h0M287.2 526.1h0M294.3 526.1h0M301.3 526.1h0M308.4 526.1h0M315.4 526.1h0M322.5 526.1h0M329.5 526.1h0M336.6 515.7h0M350.7 515.7h0M357.8 515.7h0M364.8 496h0M371.9 496h0M378.9 501.2h0M386 501.2h0M393.1 510.5h0M400.1 510.5h0" stroke="#00b0f0" stroke-width="5.7" stroke-linecap="round" fill="none"/>
<path d="M104.5 458.5 L107.5 457.5 L110 462 L110 466.5 L113.5 468.5 L117.5 471 L120.5 476.5 L123 483 L127 487 L131 489.5 L134.5 493.5 L136.5 498.5 L133 503 L129.5 507.5 L127.5 512.5 L124 513.5 L120 509 L116 503.5 L112 498.5 L108 493 L104.8 487 L103.2 481 L104.2 475 L106.5 471 L105.5 466 L104 462Z" fill="#9b1654" opacity="0.55"/>
<path d="M106 455.4l2.6 2.6l-2.6 2.6l-2.6 -2.6zM108 458.4l2.6 2.6l-2.6 2.6l-2.6 -2.6zM106 461.4l2.6 2.6l-2.6 2.6l-2.6 -2.6zM108 464.4l2.6 2.6l-2.6 2.6l-2.6 -2.6zM110 467.4l2.6 2.6l-2.6 2.6l-2.6 -2.6zM114 467.4l2.6 2.6l-2.6 2.6l-2.6 -2.6zM108 470.4l2.6 2.6l-2.6 2.6l-2.6 -2.6zM112 470.4l2.6 2.6l-2.6 2.6l-2.6 -2.6zM116 470.4l2.6 2.6l-2.6 2.6l-2.6 -2.6zM106 473.4l2.6 2.6l-2.6 2.6l-2.6 -2.6zM110 473.4l2.6 2.6l-2.6 2.6l-2.6 -2.6zM114 473.4l2.6 2.6l-2.6 2.6l-2.6 -2.6zM118 473.4l2.6 2.6l-2.6 2.6l-2.6 -2.6zM104 476.4l2.6 2.6l-2.6 2.6l-2.6 -2.6zM108 476.4l2.6 2.6l-2.6 2.6l-2.6 -2.6zM112 476.4l2.6 2.6l-2.6 2.6l-2.6 -2.6zM116 476.4l2.6 2.6l-2.6 2.6l-2.6 -2.6zM120 476.4l2.6 2.6l-2.6 2.6l-2.6 -2.6zM106 479.4l2.6 2.6l-2.6 2.6l-2.6 -2.6zM110 479.4l2.6 2.6l-2.6 2.6l-2.6 -2.6zM114 479.4l2.6 2.6l-2.6 2.6l-2.6 -2.6zM118 479.4l2.6 2.6l-2.6 2.6l-2.6 -2.6zM122 479.4l2.6 2.6l-2.6 2.6l-2.6 -2.6zM108 482.4l2.6 2.6l-2.6 2.6l-2.6 -2.6zM112 482.4l2.6 2.6l-2.6 2.6l-2.6 -2.6zM116 482.4l2.6 2.6l-2.6 2.6l-2.6 -2.6zM120 482.4l2.6 2.6l-2.6 2.6l-2.6 -2.6zM124 482.4l2.6 2.6l-2.6 2.6l-2.6 -2.6zM106 485.4l2.6 2.6l-2.6 2.6l-2.6 -2.6zM110 485.4l2.6 2.6l-2.6 2.6l-2.6 -2.6zM114 485.4l2.6 2.6l-2.6 2.6l-2.6 -2.6zM118 485.4l2.6 2.6l-2.6 2.6l-2.6 -2.6zM122 485.4l2.6 2.6l-2.6 2.6l-2.6 -2.6zM126 485.4l2.6 2.6l-2.6 2.6l-2.6 -2.6zM108 488.4l2.6 2.6l-2.6 2.6l-2.6 -2.6zM112 488.4l2.6 2.6l-2.6 2.6l-2.6 -2.6zM116 488.4l2.6 2.6l-2.6 2.6l-2.6 -2.6zM120 488.4l2.6 2.6l-2.6 2.6l-2.6 -2.6zM124 488.4l2.6 2.6l-2.6 2.6l-2.6 -2.6zM128 488.4l2.6 2.6l-2.6 2.6l-2.6 -2.6zM132 488.4l2.6 2.6l-2.6 2.6l-2.6 -2.6zM110 491.4l2.6 2.6l-2.6 2.6l-2.6 -2.6zM114 491.4l2.6 2.6l-2.6 2.6l-2.6 -2.6zM118 491.4l2.6 2.6l-2.6 2.6l-2.6 -2.6zM122 491.4l2.6 2.6l-2.6 2.6l-2.6 -2.6zM126 491.4l2.6 2.6l-2.6 2.6l-2.6 -2.6zM130 491.4l2.6 2.6l-2.6 2.6l-2.6 -2.6zM134 491.4l2.6 2.6l-2.6 2.6l-2.6 -2.6zM112 494.4l2.6 2.6l-2.6 2.6l-2.6 -2.6zM116 494.4l2.6 2.6l-2.6 2.6l-2.6 -2.6zM120 494.4l2.6 2.6l-2.6 2.6l-2.6 -2.6zM124 494.4l2.6 2.6l-2.6 2.6l-2.6 -2.6zM128 494.4l2.6 2.6l-2.6 2.6l-2.6 -2.6zM132 494.4l2.6 2.6l-2.6 2.6l-2.6 -2.6zM114 497.4l2.6 2.6l-2.6 2.6l-2.6 -2.6zM118 497.4l2.6 2.6l-2.6 2.6l-2.6 -2.6zM122 497.4l2.6 2.6l-2.6 2.6l-2.6 -2.6zM126 497.4l2.6 2.6l-2.6 2.6l-2.6 -2.6zM130 497.4l2.6 2.6l-2.6 2.6l-2.6 -2.6zM134 497.4l2.6 2.6l-2.6 2.6l-2.6 -2.6zM116 500.4l2.6 2.6l-2.6 2.6l-2.6 -2.6zM120 500.4l2.6 2.6l-2.6 2.6l-2.6 -2.6zM124 500.4l2.6 2.6l-2.6 2.6l-2.6 -2.6zM128 500.4l2.6 2.6l-2.6 2.6l-2.6 -2.6zM132 500.4l2.6 2.6l-2.6 2.6l-2.6 -2.6zM118 503.4l2.6 2.6l-2.6 2.6l-2.6 -2.6zM122 503.4l2.6 2.6l-2.6 2.6l-2.6 -2.6zM126 503.4l2.6 2.6l-2.6 2.6l-2.6 -2.6zM130 503.4l2.6 2.6l-2.6 2.6l-2.6 -2.6zM120 506.4l2.6 2.6l-2.6 2.6l-2.6 -2.6zM124 506.4l2.6 2.6l-2.6 2.6l-2.6 -2.6zM128 506.4l2.6 2.6l-2.6 2.6l-2.6 -2.6zM126 509.4l2.6 2.6l-2.6 2.6l-2.6 -2.6z" fill="#9b1654" stroke="#fff" stroke-width="0.45"/>
<path d="M125.5 511.9l2.6 2.6l-2.6 2.6l-2.6 -2.6zM127 511.9l2.6 2.6l-2.6 2.6l-2.6 -2.6zM128.5 511.9l2.6 2.6l-2.6 2.6l-2.6 -2.6z" fill="#9b1654"/>
<path d="M128 518l2.6 2.6l-2.6 2.6l-2.6 -2.6zM129.5 518l2.6 2.6l-2.6 2.6l-2.6 -2.6zM131 518l2.6 2.6l-2.6 2.6l-2.6 -2.6zM132.5 518l2.6 2.6l-2.6 2.6l-2.6 -2.6zM134 518l2.6 2.6l-2.6 2.6l-2.6 -2.6zM135.5 518l2.6 2.6l-2.6 2.6l-2.6 -2.6z" fill="#9b1654"/>
<path d="M132.8 523l2.6 2.6l-2.6 2.6l-2.6 -2.6zM134.3 523l2.6 2.6l-2.6 2.6l-2.6 -2.6zM135.8 523l2.6 2.6l-2.6 2.6l-2.6 -2.6zM137.3 523l2.6 2.6l-2.6 2.6l-2.6 -2.6zM138.8 523l2.6 2.6l-2.6 2.6l-2.6 -2.6zM140.3 523l2.6 2.6l-2.6 2.6l-2.6 -2.6zM141.8 523l2.6 2.6l-2.6 2.6l-2.6 -2.6zM143.3 523l2.6 2.6l-2.6 2.6l-2.6 -2.6z" fill="#9b1654"/>
<path d="M104.5 477l3 3l-3 3l-3 -3zM105.9 481.2l3 3l-3 3l-3 -3zM107.4 485.3l3 3l-3 3l-3 -3zM109.1 489.4l3 3l-3 3l-3 -3zM111.1 493.3l3 3l-3 3l-3 -3zM113.6 496.9l3 3l-3 3l-3 -3zM115.8 500.7l3 3l-3 3l-3 -3zM117.6 504.7l3 3l-3 3l-3 -3zM119 508.9l3 3l-3 3l-3 -3zM120.2 513.1l3 3l-3 3l-3 -3zM121.3 517.3l3 3l-3 3l-3 -3zM122.5 521.6l3 3l-3 3l-3 -3zM124 525.7l3 3l-3 3l-3 -3zM125.6 529.8l3 3l-3 3l-3 -3zM127.2 533.9l3 3l-3 3l-3 -3zM129.1 537.9l3 3l-3 3l-3 -3zM132 541.1l3 3l-3 3l-3 -3zM135.2 544.2l3 3l-3 3l-3 -3zM138.3 547.3l3 3l-3 3l-3 -3z" fill="#9b1654" stroke="#fff" stroke-width="0.3"/>
<path d="M140.7 553.8l2.6 2.6l-2.6 2.6l-2.6 -2.6zM142.2 553.8l2.6 2.6l-2.6 2.6l-2.6 -2.6zM143.7 553.8l2.6 2.6l-2.6 2.6l-2.6 -2.6zM145.2 553.8l2.6 2.6l-2.6 2.6l-2.6 -2.6zM146.7 553.8l2.6 2.6l-2.6 2.6l-2.6 -2.6zM148.2 553.8l2.6 2.6l-2.6 2.6l-2.6 -2.6zM149.7 553.8l2.6 2.6l-2.6 2.6l-2.6 -2.6zM151.2 553.8l2.6 2.6l-2.6 2.6l-2.6 -2.6zM152.7 553.8l2.6 2.6l-2.6 2.6l-2.6 -2.6zM154.2 553.8l2.6 2.6l-2.6 2.6l-2.6 -2.6zM155.7 553.8l2.6 2.6l-2.6 2.6l-2.6 -2.6zM157.2 553.8l2.6 2.6l-2.6 2.6l-2.6 -2.6z" fill="#9b1654"/>
<path d="M157 558.9l2.6 2.6l-2.6 2.6l-2.6 -2.6zM158.5 558.9l2.6 2.6l-2.6 2.6l-2.6 -2.6zM160 558.9l2.6 2.6l-2.6 2.6l-2.6 -2.6zM161.5 558.9l2.6 2.6l-2.6 2.6l-2.6 -2.6zM163 558.9l2.6 2.6l-2.6 2.6l-2.6 -2.6zM164.5 558.9l2.6 2.6l-2.6 2.6l-2.6 -2.6zM166 558.9l2.6 2.6l-2.6 2.6l-2.6 -2.6zM167.5 558.9l2.6 2.6l-2.6 2.6l-2.6 -2.6zM169 558.9l2.6 2.6l-2.6 2.6l-2.6 -2.6zM170.5 558.9l2.6 2.6l-2.6 2.6l-2.6 -2.6zM172 558.9l2.6 2.6l-2.6 2.6l-2.6 -2.6zM173.5 558.9l2.6 2.6l-2.6 2.6l-2.6 -2.6z" fill="#9b1654"/>
<path d="M173.3 553.8l2.6 2.6l-2.6 2.6l-2.6 -2.6zM174.8 553.8l2.6 2.6l-2.6 2.6l-2.6 -2.6zM176.3 553.8l2.6 2.6l-2.6 2.6l-2.6 -2.6zM177.8 553.8l2.6 2.6l-2.6 2.6l-2.6 -2.6zM179.3 553.8l2.6 2.6l-2.6 2.6l-2.6 -2.6zM180.8 553.8l2.6 2.6l-2.6 2.6l-2.6 -2.6zM182.3 553.8l2.6 2.6l-2.6 2.6l-2.6 -2.6zM183.8 553.8l2.6 2.6l-2.6 2.6l-2.6 -2.6zM185.3 553.8l2.6 2.6l-2.6 2.6l-2.6 -2.6zM186.8 553.8l2.6 2.6l-2.6 2.6l-2.6 -2.6zM188.3 553.8l2.6 2.6l-2.6 2.6l-2.6 -2.6zM189.8 553.8l2.6 2.6l-2.6 2.6l-2.6 -2.6zM191.3 553.8l2.6 2.6l-2.6 2.6l-2.6 -2.6zM192.8 553.8l2.6 2.6l-2.6 2.6l-2.6 -2.6zM194.3 553.8l2.6 2.6l-2.6 2.6l-2.6 -2.6zM195.8 553.8l2.6 2.6l-2.6 2.6l-2.6 -2.6z" fill="#9b1654"/>
<path d="M133.9 506.1 L194.5 506.1" fill="none" stroke="#9b1654" stroke-width="5" stroke-linecap="round" stroke-linejoin="round"/>
<path d="M184.7 510.4 L193.8 510.4" fill="none" stroke="#9b1654" stroke-width="6.4" stroke-linecap="round" stroke-linejoin="round"/>
<path d="M147.3 531.3 L195.2 531.3" fill="none" stroke="#9b1654" stroke-width="4.8" stroke-linecap="round" stroke-linejoin="round"/>
<path d="M178 501.2 L181 501.2" fill="none" stroke="#9b1654" stroke-width="4.2" stroke-linecap="round" stroke-linejoin="round"/>
<path d="M133 501.2 L138 501.2" fill="none" stroke="#9b1654" stroke-width="4" stroke-linecap="round" stroke-linejoin="round"/>
<path d="M81.7 465.7h0M88.3 455.9h0M91.5 455.9h0M96.1 465.7h0M100.5 475.8h0M104.6 481.2h0M112.2 450.2h0M116.9 436.1h0M133.9 445.5h0M151.2 455.8h0M177.6 465.8h0M197.6 470.9h0M215.5 470.8h0M222.5 470.8h0M246.6 475.3h0M249 475.3h0M307.8 475.3h0M311.2 475.3h0M318.5 481.2h0M339.2 481.2h0M366.8 481.2h0M391.7 485.7h0M395.9 485.7h0M434.5 496h0M441.5 501.2h0M451.8 505.7h0M469.1 501.2h0M478.8 490.8h0M512.3 471.1h0M542.7 471.1h0M572 471.1h0" stroke="#7030a0" stroke-width="4.7" stroke-linecap="round" fill="none"/>
<path d="M108.4 438l6 6M108.4 444l6 -6" stroke="#00b050" stroke-width="2" fill="none"/>
<path d="M107.8 456h7.2M111.4 452.4v7.2" stroke="#00b050" stroke-width="2.2" fill="none"/>
<path d="M111.4 463.6l3.3 5.6h-6.6z" fill="#00b050"/>
<path d="M126.2 498.2l6 6M126.2 504.2l6 -6" stroke="#00b050" stroke-width="2" fill="none"/>
<path d="M125.6 516h7.2M129.2 512.4v7.2" stroke="#00b050" stroke-width="2.2" fill="none"/>
<path d="M406.9 497.9l2.2 2.2l-2.2 2.2l-2.2 -2.2zM409.3 498.1l2.2 2.2l-2.2 2.2l-2.2 -2.2zM411.7 498.3l2.2 2.2l-2.2 2.2l-2.2 -2.2zM414.1 498.5l2.2 2.2l-2.2 2.2l-2.2 -2.2zM416.5 498.8l2.2 2.2l-2.2 2.2l-2.2 -2.2zM418.9 499l2.2 2.2l-2.2 2.2l-2.2 -2.2zM421.3 499.3l2.2 2.2l-2.2 2.2l-2.2 -2.2zM423.7 499.6l2.2 2.2l-2.2 2.2l-2.2 -2.2zM426.1 499.8l2.2 2.2l-2.2 2.2l-2.2 -2.2zM428.5 500.2l2.2 2.2l-2.2 2.2l-2.2 -2.2zM430.9 500.7l2.2 2.2l-2.2 2.2l-2.2 -2.2zM433.3 501.2l2.2 2.2l-2.2 2.2l-2.2 -2.2zM435.7 501.7l2.2 2.2l-2.2 2.2l-2.2 -2.2zM438.1 502.4l2.2 2.2l-2.2 2.2l-2.2 -2.2zM440.5 503l2.2 2.2l-2.2 2.2l-2.2 -2.2zM442.9 503.7l2.2 2.2l-2.2 2.2l-2.2 -2.2zM445.3 504.4l2.2 2.2l-2.2 2.2l-2.2 -2.2zM447.7 505.4l2.2 2.2l-2.2 2.2l-2.2 -2.2zM450.1 506.5l2.2 2.2l-2.2 2.2l-2.2 -2.2zM452.5 507.6l2.2 2.2l-2.2 2.2l-2.2 -2.2zM454.9 508.8l2.2 2.2l-2.2 2.2l-2.2 -2.2zM457.3 509.7l2.2 2.2l-2.2 2.2l-2.2 -2.2zM459.7 509.9l2.2 2.2l-2.2 2.2l-2.2 -2.2zM462.1 510.1l2.2 2.2l-2.2 2.2l-2.2 -2.2zM464.5 510.3l2.2 2.2l-2.2 2.2l-2.2 -2.2zM466.9 510.1l2.2 2.2l-2.2 2.2l-2.2 -2.2zM469.3 510l2.2 2.2l-2.2 2.2l-2.2 -2.2zM471.7 509.8l2.2 2.2l-2.2 2.2l-2.2 -2.2zM474.1 508.3l2.2 2.2l-2.2 2.2l-2.2 -2.2zM476.5 506.3l2.2 2.2l-2.2 2.2l-2.2 -2.2zM478.9 503.8l2.2 2.2l-2.2 2.2l-2.2 -2.2zM481.3 502.3l2.2 2.2l-2.2 2.2l-2.2 -2.2zM483.7 501l2.2 2.2l-2.2 2.2l-2.2 -2.2zM486.1 499.8l2.2 2.2l-2.2 2.2l-2.2 -2.2zM488.5 499.1l2.2 2.2l-2.2 2.2l-2.2 -2.2zM490.9 498.5l2.2 2.2l-2.2 2.2l-2.2 -2.2zM493.3 497.9l2.2 2.2l-2.2 2.2l-2.2 -2.2zM495.7 497.3l2.2 2.2l-2.2 2.2l-2.2 -2.2zM498.1 496.8l2.2 2.2l-2.2 2.2l-2.2 -2.2zM500.5 496.2l2.2 2.2l-2.2 2.2l-2.2 -2.2zM502.9 495.7l2.2 2.2l-2.2 2.2l-2.2 -2.2zM505.3 495.4l2.2 2.2l-2.2 2.2l-2.2 -2.2zM507.7 495.2l2.2 2.2l-2.2 2.2l-2.2 -2.2zM510.1 495.1l2.2 2.2l-2.2 2.2l-2.2 -2.2zM512.5 494.9l2.2 2.2l-2.2 2.2l-2.2 -2.2zM514.9 494.9l2.2 2.2l-2.2 2.2l-2.2 -2.2zM517.3 494.9l2.2 2.2l-2.2 2.2l-2.2 -2.2zM519.7 494.9l2.2 2.2l-2.2 2.2l-2.2 -2.2zM522.1 495l2.2 2.2l-2.2 2.2l-2.2 -2.2zM524.5 495.7l2.2 2.2l-2.2 2.2l-2.2 -2.2zM526.9 496.3l2.2 2.2l-2.2 2.2l-2.2 -2.2zM529.3 495.7l2.2 2.2l-2.2 2.2l-2.2 -2.2zM531.7 494.1l2.2 2.2l-2.2 2.2l-2.2 -2.2zM534.1 492.8l2.2 2.2l-2.2 2.2l-2.2 -2.2zM536.5 491.7l2.2 2.2l-2.2 2.2l-2.2 -2.2zM538.9 490.6l2.2 2.2l-2.2 2.2l-2.2 -2.2zM542.5 490.2l2.2 2.2l-2.2 2.2l-2.2 -2.2zM546.1 489.8l2.2 2.2l-2.2 2.2l-2.2 -2.2zM549.7 489.4l2.2 2.2l-2.2 2.2l-2.2 -2.2zM553.3 489.7l2.2 2.2l-2.2 2.2l-2.2 -2.2zM556.9 490.1l2.2 2.2l-2.2 2.2l-2.2 -2.2zM560.5 490.4l2.2 2.2l-2.2 2.2l-2.2 -2.2zM564.1 490.9l2.2 2.2l-2.2 2.2l-2.2 -2.2zM567.7 491.4l2.2 2.2l-2.2 2.2l-2.2 -2.2zM571.3 491.9l2.2 2.2l-2.2 2.2l-2.2 -2.2zM574.9 492.4l2.2 2.2l-2.2 2.2l-2.2 -2.2z" fill="#000"/>
<path d="M404.6 514.4l4.6 4.6M404.6 519l4.6 -4.6M406.8 514.6l4.6 4.6M406.8 519.2l4.6 -4.6M409 514.8l4.6 4.6M409 519.4l4.6 -4.6M411.2 514.9l4.6 4.6M411.2 519.5l4.6 -4.6M413.4 515.1l4.6 4.6M413.4 519.7l4.6 -4.6M415.6 515.3l4.6 4.6M415.6 519.9l4.6 -4.6M417.8 515.5l4.6 4.6M417.8 520.1l4.6 -4.6M420 515.7l4.6 4.6M420 520.3l4.6 -4.6M422.2 515.8l4.6 4.6M422.2 520.4l4.6 -4.6M424.4 516l4.6 4.6M424.4 520.6l4.6 -4.6M426.6 516.3l4.6 4.6M426.6 520.9l4.6 -4.6M428.8 516.7l4.6 4.6M428.8 521.3l4.6 -4.6M431 517.1l4.6 4.6M431 521.7l4.6 -4.6M433.2 517.4l4.6 4.6M433.2 522l4.6 -4.6M435.4 517.8l4.6 4.6M435.4 522.4l4.6 -4.6M437.6 518.2l4.6 4.6M437.6 522.8l4.6 -4.6M439.8 518.5l4.6 4.6M439.8 523.1l4.6 -4.6M442 518.9l4.6 4.6M442 523.5l4.6 -4.6M444.2 519.3l4.6 4.6M444.2 523.9l4.6 -4.6M446.4 519.6l4.6 4.6M446.4 524.2l4.6 -4.6M448.6 519.8l4.6 4.6M448.6 524.4l4.6 -4.6M450.8 520l4.6 4.6M450.8 524.6l4.6 -4.6M453 520.2l4.6 4.6M453 524.8l4.6 -4.6M455.2 520.3l4.6 4.6M455.2 524.9l4.6 -4.6M457.4 520.5l4.6 4.6M457.4 525.1l4.6 -4.6M459.6 520.7l4.6 4.6M459.6 525.3l4.6 -4.6M461.8 520.9l4.6 4.6M461.8 525.5l4.6 -4.6M464 521.1l4.6 4.6M464 525.7l4.6 -4.6M466.2 521.3l4.6 4.6M466.2 525.9l4.6 -4.6M468.4 520.5l4.6 4.6M468.4 525.1l4.6 -4.6M470.6 519.3l4.6 4.6M470.6 523.9l4.6 -4.6M472.8 518.2l4.6 4.6M472.8 522.8l4.6 -4.6M475 517.1l4.6 4.6M475 521.7l4.6 -4.6M477.2 516.1l4.6 4.6M477.2 520.7l4.6 -4.6M479.4 515.5l4.6 4.6M479.4 520.1l4.6 -4.6M481.6 515l4.6 4.6M481.6 519.6l4.6 -4.6M483.8 514.5l4.6 4.6M483.8 519.1l4.6 -4.6M486 513.9l4.6 4.6M486 518.5l4.6 -4.6M488.2 513.4l4.6 4.6M488.2 518l4.6 -4.6M490.4 512.8l4.6 4.6M490.4 517.4l4.6 -4.6M492.6 512.6l4.6 4.6M492.6 517.2l4.6 -4.6M494.8 512.4l4.6 4.6M494.8 517l4.6 -4.6M497 512.3l4.6 4.6M497 516.9l4.6 -4.6M499.2 512.1l4.6 4.6M499.2 516.7l4.6 -4.6M501.4 511.9l4.6 4.6M501.4 516.5l4.6 -4.6M503.6 511.8l4.6 4.6M503.6 516.4l4.6 -4.6M505.8 512.1l4.6 4.6M505.8 516.7l4.6 -4.6M508 513.1l4.6 4.6M508 517.7l4.6 -4.6M510.2 514.1l4.6 4.6M510.2 518.7l4.6 -4.6M512.4 514.8l4.6 4.6M512.4 519.4l4.6 -4.6M514.6 515.4l4.6 4.6M514.6 520l4.6 -4.6M516.8 515.9l4.6 4.6M516.8 520.5l4.6 -4.6M519 516.5l4.6 4.6M519 521.1l4.6 -4.6M521.2 517.5l4.6 4.6M521.2 522.1l4.6 -4.6M523.4 518.6l4.6 4.6M523.4 523.2l4.6 -4.6M525.6 518.7l4.6 4.6M525.6 523.3l4.6 -4.6M527.8 516.6l4.6 4.6M527.8 521.2l4.6 -4.6M530 514.4l4.6 4.6M530 519l4.6 -4.6M532.2 511.8l4.6 4.6M532.2 516.4l4.6 -4.6M534.4 509.1l4.6 4.6M534.4 513.7l4.6 -4.6M536.6 507l4.6 4.6M536.6 511.6l4.6 -4.6M540.2 505.4l4.6 4.6M540.2 510l4.6 -4.6M543.8 504.1l4.6 4.6M543.8 508.7l4.6 -4.6M547.4 503.2l4.6 4.6M547.4 507.8l4.6 -4.6M551 504.7l4.6 4.6M551 509.3l4.6 -4.6M554.6 506.4l4.6 4.6M554.6 511l4.6 -4.6M558.2 507.8l4.6 4.6M558.2 512.4l4.6 -4.6M561.8 509.1l4.6 4.6M561.8 513.7l4.6 -4.6M565.4 509.4l4.6 4.6M565.4 514l4.6 -4.6M569 509.1l4.6 4.6M569 513.7l4.6 -4.6M572.6 508.7l4.6 4.6M572.6 513.3l4.6 -4.6" stroke="#000" stroke-width="1.1" fill="none"/>
<path d="M406.9 520.2h0M409.3 520.3h0M411.7 520.3h0M414.1 520.4h0M416.5 520.4h0M418.9 520.5h0M421.3 520.5h0M423.7 520.6h0M426.1 520.7h0M428.5 520.7h0M430.9 520.8h0M433.3 520.9h0M435.7 521h0M438.1 521.2h0M440.5 521.3h0M442.9 521.5h0M445.3 521.7h0M447.7 521.8h0M450.1 522h0M452.5 522.2h0M454.9 522.4h0M457.3 522.6h0M459.7 522.8h0M462.1 523h0M464.5 523.2h0M466.9 523.4h0M469.3 523.6h0M471.7 523.5h0M474.1 523.4h0M476.5 523.3h0M478.9 523.2h0M481.3 523.1h0M483.7 523h0M486.1 522.9h0M488.5 522.8h0M490.9 522.8h0M493.3 522.7h0M495.7 522.6h0M498.1 522.7h0M500.5 522.8h0M502.9 522.9h0M505.3 523.2h0M507.7 523.5h0M510.1 523.8h0M512.5 524.5h0M514.9 525.5h0M517.3 526.8h0M519.7 528.3h0M522.1 530.9h0M524.5 533.2h0M526.9 536.8h0M529.3 536.7h0M531.7 533.4h0M534.1 525.5h0M536.5 518h0M538.9 513.8h0M542.5 512.8h0M546.1 510.9h0M549.7 507.1h0M553.3 506.7h0M556.9 509.1h0M560.5 511h0M564.1 512.9h0M567.7 514.1h0M571.3 514.8h0M574.9 515.4h0" stroke="#000" stroke-width="5.4" stroke-linecap="round" fill="none"/>
</g></svg></body></html>
